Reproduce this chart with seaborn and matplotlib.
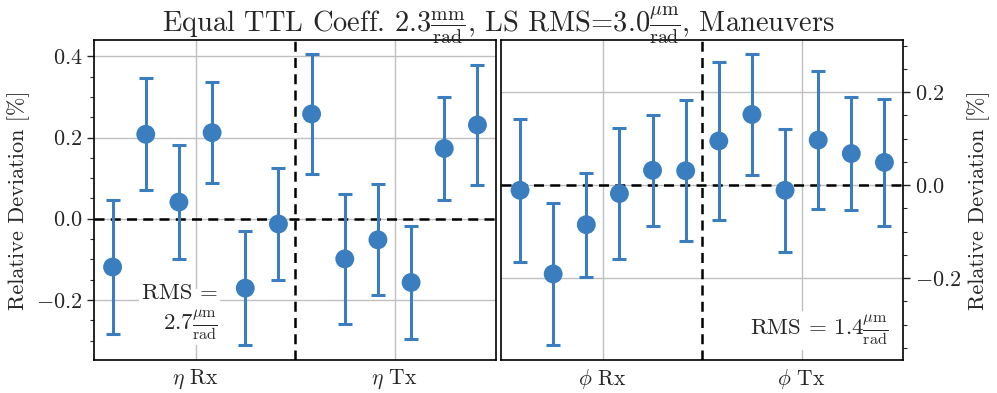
import numpy as np
import pandas as pd
import matplotlib
matplotlib.use("Agg")
import matplotlib.pyplot as plt
import seaborn as sns
from matplotlib.ticker import MultipleLocator

# ---- data ----
left_labels = [r"$\eta$ Rx", r"$\eta$ Tx"]
right_labels = [r"$\phi$ Rx", r"$\phi$ Tx"]

eta_vals = [-0.119, 0.208, 0.041, 0.212, -0.171, -0.013,
            0.258, -0.099, -0.052, -0.157, 0.173, 0.231]
eta_errs = [0.166, 0.138, 0.141, 0.125, 0.141, 0.139,
            0.147, 0.160, 0.137, 0.139, 0.128, 0.147]

phi_vals = [-0.011, -0.191, -0.085, -0.018, 0.032, 0.031,
            0.095, 0.152, -0.011, 0.097, 0.068, 0.049]
phi_errs = [0.154, 0.153, 0.112, 0.140, 0.119, 0.152,
            0.170, 0.131, 0.132, 0.149, 0.122, 0.136]

rms_left = "RMS =\n" + r"$2.7\frac{\mu\mathrm{m}}{\mathrm{rad}}$"
rms_right = r"RMS = $1.4\frac{\mu\mathrm{m}}{\mathrm{rad}}$"
title = (r"Equal TTL Coeff. $2.3\frac{\mathrm{mm}}{\mathrm{rad}}$, "
         r"LS RMS=$3.0\frac{\mu\mathrm{m}}{\mathrm{rad}}$, Maneuvers")

# ---- style ----
sns.set_style("ticks")
plt.rcParams["font.family"] = ["cmr10", "DejaVu Serif"]
plt.rcParams["mathtext.fontset"] = "cm"
plt.rcParams["axes.formatter.use_mathtext"] = True
plt.rcParams["axes.unicode_minus"] = True

color = "#3a7ebf"

fig = plt.figure(figsize=(9.97, 3.93), dpi=100)
axL = fig.add_axes([0.0943, 0.084, 0.4032, 0.814])
axR = fig.add_axes([0.5030, 0.084, 0.4027, 0.814])


def draw(ax, vals, errs, labels, ylim, major):
    df = pd.DataFrame({"x": np.arange(len(vals)), "y": vals, "err": errs})
    ax.errorbar(df["x"], df["y"], yerr=df["err"], fmt="none", ecolor=color,
                elinewidth=2.2, capsize=5.3, capthick=2.2, zorder=3)
    sns.scatterplot(data=df, x="x", y="y", ax=ax, color=color, s=185,
                    edgecolor="none", zorder=4, legend=False)
    ax.axhline(0, color="black", ls=(0, (4, 2.5)), lw=1.8, zorder=2)
    ax.axvline(5.5, color="black", ls=(0, (4, 2.5)), lw=1.8, zorder=2)
    ax.set_xlim(-0.56, 11.56)
    ax.set_ylim(*ylim)
    ax.set_xticks([2.5, 8.5])
    ax.set_xticklabels(labels, fontsize=15.5)
    ax.tick_params(axis="x", length=0, pad=5)
    ax.yaxis.set_major_locator(MultipleLocator(major))
    ax.yaxis.set_minor_locator(MultipleLocator(0.05))
    ax.tick_params(axis="y", which="major", length=5, width=1, labelsize=16)
    ax.tick_params(axis="y", which="minor", length=3, width=0.8)
    ax.grid(True, which="major", color="#c0c0c0", lw=1.0, zorder=0)
    ax.set_axisbelow(True)
    ax.set_xlabel("")
    ax.set_ylabel("Relative Deviation [%]", fontsize=16)
    for s in ax.spines.values():
        s.set_linewidth(1.2)
        s.set_color("black")


draw(axL, eta_vals, eta_errs, left_labels, (-0.348, 0.44), 0.2)
draw(axR, phi_vals, phi_errs, right_labels, (-0.376, 0.312), 0.2)

axR.yaxis.tick_right()
axR.yaxis.set_label_position("right")
axR.tick_params(axis="y", which="both", left=False, right=True)

axL.text(3.17, -0.232, rms_left, ha="right", va="center", fontsize=16.5,
         multialignment="right", linespacing=1.25, zorder=5,
         bbox=dict(facecolor="white", edgecolor="none", pad=2))
axR.text(11.1, -0.312, rms_right, ha="right", va="center", fontsize=16.5,
         zorder=5, bbox=dict(facecolor="white", edgecolor="none", pad=2))

fig.suptitle(title, fontsize=20.5, y=0.99)

fig.savefig("out.png", dpi=100)
